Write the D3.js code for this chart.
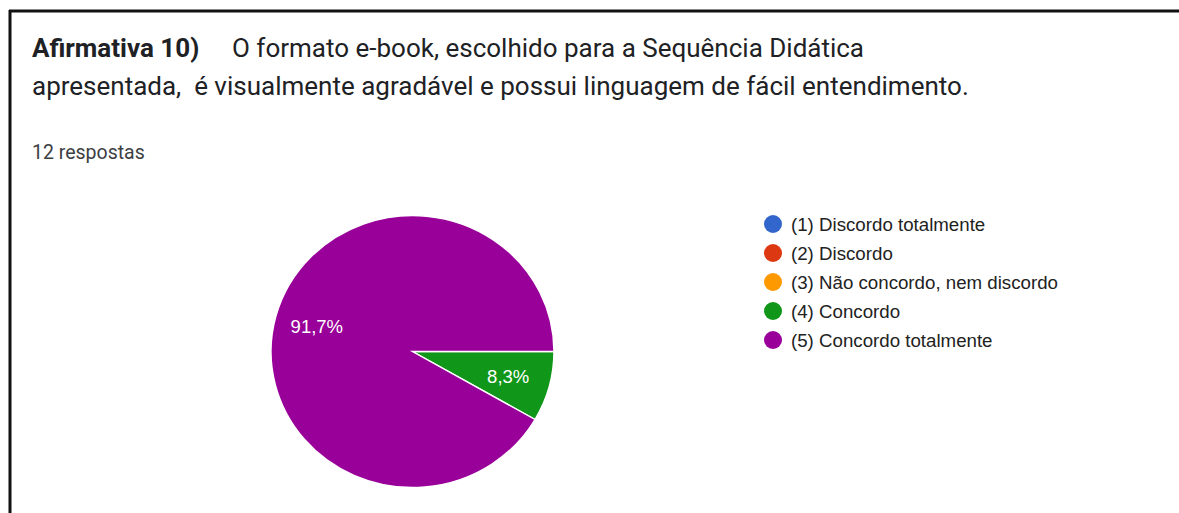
<!DOCTYPE html>
<html>
<head>
<meta charset="utf-8">
<script src="https://cdn.jsdelivr.net/npm/d3@7"></script>
<style>
  html, body { margin: 0; padding: 0; background: #fff; }
  svg { display: block; }
</style>
</head>
<body>
<div id="chart"></div>
<script>
const categories = ['(1) Discordo totalmente', '(2) Discordo', '(3) Não concordo, nem discordo', '(4) Concordo', '(5) Concordo totalmente']
const counts = [0, 0, 0, 1, 11]
const colors = ['#3366cc', '#dc3912', '#ff9900', '#109618', '#990099']
const titleBold = 'Afirmativa 10)'
const titleRest = 'O formato e-book, escolhido para a Sequência Didática'
const titleLine2 = 'apresentada,  é visualmente agradável e possui linguagem de fácil entendimento.'
const subtitle = '12 respostas'

const width = 1179, height = 513

const svg = d3.select('#chart')
.append('svg')
.attr('width', width)
.attr('height', height)

// frame (only left and top edges show)
svg.append('line').attr('x1', 9).attr('y1', 11).attr('x2', width).attr('y2', 11)
.attr('stroke', '#111').attr('stroke-width', 3)
svg.append('line').attr('x1', 10).attr('y1', 10).attr('x2', 10).attr('y2', height)
.attr('stroke', '#111').attr('stroke-width', 3)

svg.append('text')
.attr('x', 32).attr('y', 57)
.attr('font-family', 'Roboto').attr('font-size', 26).attr('font-weight', 'bold')
.attr('fill', '#202124')
.text(titleBold)

svg.append('text')
.attr('x', 232).attr('y', 57)
.attr('font-family', 'Roboto').attr('font-size', 26)
.attr('fill', '#202124')
.text(titleRest)

svg.append('text')
.attr('x', 32).attr('y', 95)
.attr('font-family', 'Roboto').attr('font-size', 26)
.attr('fill', '#202124')
.attr('xml:space', 'preserve')
.style('white-space', 'pre')
.text(titleLine2)

svg.append('text')
.attr('x', 32).attr('y', 159)
.attr('font-family', 'Roboto').attr('font-size', 19.5)
.attr('fill', '#3c4043')
.text(subtitle)

// pie (slightly wider than tall, as in the picture)
const cx = 412.5, cy = 351.5, rx = 141.5, ry = 136
const total = d3.sum(counts)

const pie = d3.pie()
.sort(null)
.startAngle(Math.PI / 2)
.endAngle(Math.PI / 2 + 2 * Math.PI)
.value(d => d.value)

const arcs = pie(categories.map((c, i) => ({ name: c, value: counts[i], color: colors[i] })))
.filter(a => a.data.value > 0)

const arc = d3.arc().innerRadius(0).outerRadius(rx)
const labelArc = d3.arc().innerRadius(rx * 0.7).outerRadius(rx * 0.7)

const g = svg.append('g').attr('transform', `translate(${cx},${cy}) scale(1,${ry / rx})`)

g.selectAll('path')
.data(arcs)
.enter()
.append('path')
.attr('d', arc)
.attr('fill', d => d.data.color)
.attr('stroke', '#fff')
.attr('stroke-width', 1.5)

svg.append('g')
.attr('transform', `translate(${cx},${cy})`)
.selectAll('text')
.data(arcs)
.enter()
.append('text')
.attr('transform', d => {
  const c = labelArc.centroid(d)
  return `translate(${c[0]},${c[1] * ry / rx})`
})
.attr('text-anchor', 'middle')
.attr('dy', '0.35em')
.attr('font-family', 'Liberation Sans, Arial')
.attr('font-size', 18.5)
.attr('fill', '#fff')
.text(d => d3.format('.1f')(d.data.value / total * 100).replace('.', ',') + '%')

// legend
const legendY = d3.scalePoint()
.domain(categories)
.range([224, 340])

const legend = svg.append('g')
.selectAll('g')
.data(categories)
.enter()
.append('g')
.attr('transform', d => `translate(773,${legendY(d)})`)

legend.append('circle')
.attr('r', 9)
.attr('fill', (d, i) => colors[i])

legend.append('text')
.attr('x', 18)
.attr('dy', '0.35em')
.attr('font-family', 'Liberation Sans, Arial')
.attr('font-size', 18.7)
.attr('fill', '#222')
.text(d => d)
</script>
</body>
</html>
